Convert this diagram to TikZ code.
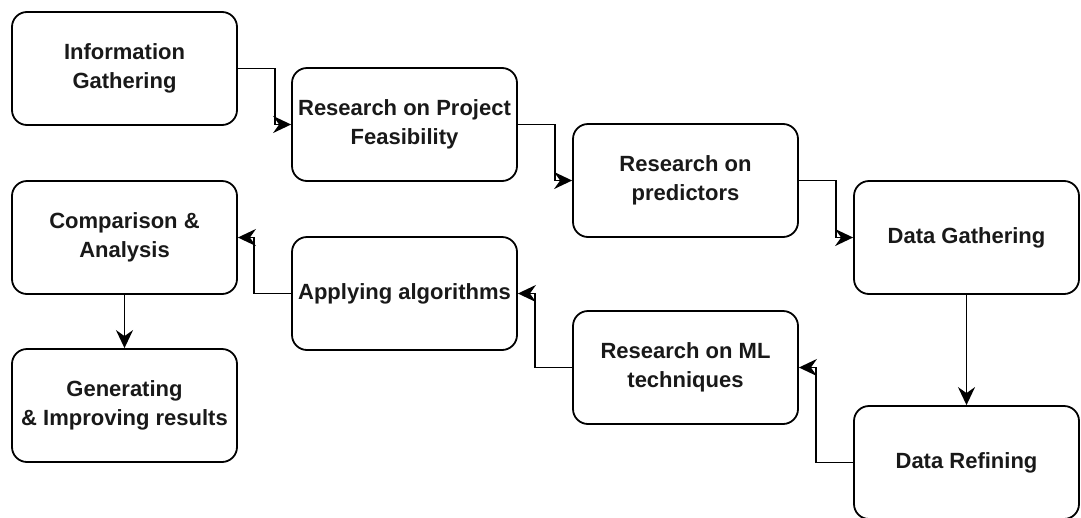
\documentclass[tikz,border=0pt]{standalone}
\usepackage{fontspec}
\setmainfont{Liberation Sans}
\usetikzlibrary{arrows.meta}
\tikzset{
  stepbox/.style={draw=black, line width=1.8pt, rounded corners=15pt, fill=white,
    minimum width=225pt, minimum height=113pt, inner sep=0pt, align=center,
    font=\fontsize{22}{29}\selectfont\bfseries, text=black!90},
  flow/.style={draw=black, line width=1.8pt,
    -{Stealth[length=18pt, width=17pt, inset=6pt, fill=black]}}
}
\begin{document}
\begin{tikzpicture}[x=1pt, y=-1pt]
  \fill[white] (0,0) rectangle (1081,517);
  \useasboundingbox (0,0) rectangle (1081,517);

  % process steps
  \node[stepbox] (info)   at (124.5, 68.5)  {Information\\Gathering};
  \node[stepbox] (feas)   at (404.5, 124.5) {Research on Project\\Feasibility};
  \node[stepbox] (pred)   at (685.5, 180.5) {Research on\\predictors};
  \node[stepbox] (dgath)  at (966.5, 237.5) {Data Gathering};
  \node[stepbox] (dref)   at (966.5, 462.5) {Data Refining};
  \node[stepbox] (ml)     at (685.5, 367.5) {Research on ML\\techniques};
  \node[stepbox] (algo)   at (404.5, 293.5) {Applying algorithms};
  \node[stepbox] (comp)   at (124.5, 237.5) {Comparison \&\\Analysis};
  \node[stepbox] (gen)    at (124.5, 405.5) {Generating\\\& Improving results};

  % connectors
  \draw[flow] (info.east)  -- ++(37,0) |- (feas.west);
  \draw[flow] (feas.east)  -- ++(37,0) |- (pred.west);
  \draw[flow] (pred.east)  -- ++(37,0) |- (dgath.west);
  \draw[flow] (dgath.south) -- (dref.north);
  \draw[flow] (dref.west)  -- ++(-37,0) |- (ml.east);
  \draw[flow] (ml.west)    -- ++(-37,0) |- (algo.east);
  \draw[flow] (algo.west)  -- ++(-37,0) |- (comp.east);
  \draw[flow] (comp.south) -- (gen.north);
\end{tikzpicture}
\end{document}
